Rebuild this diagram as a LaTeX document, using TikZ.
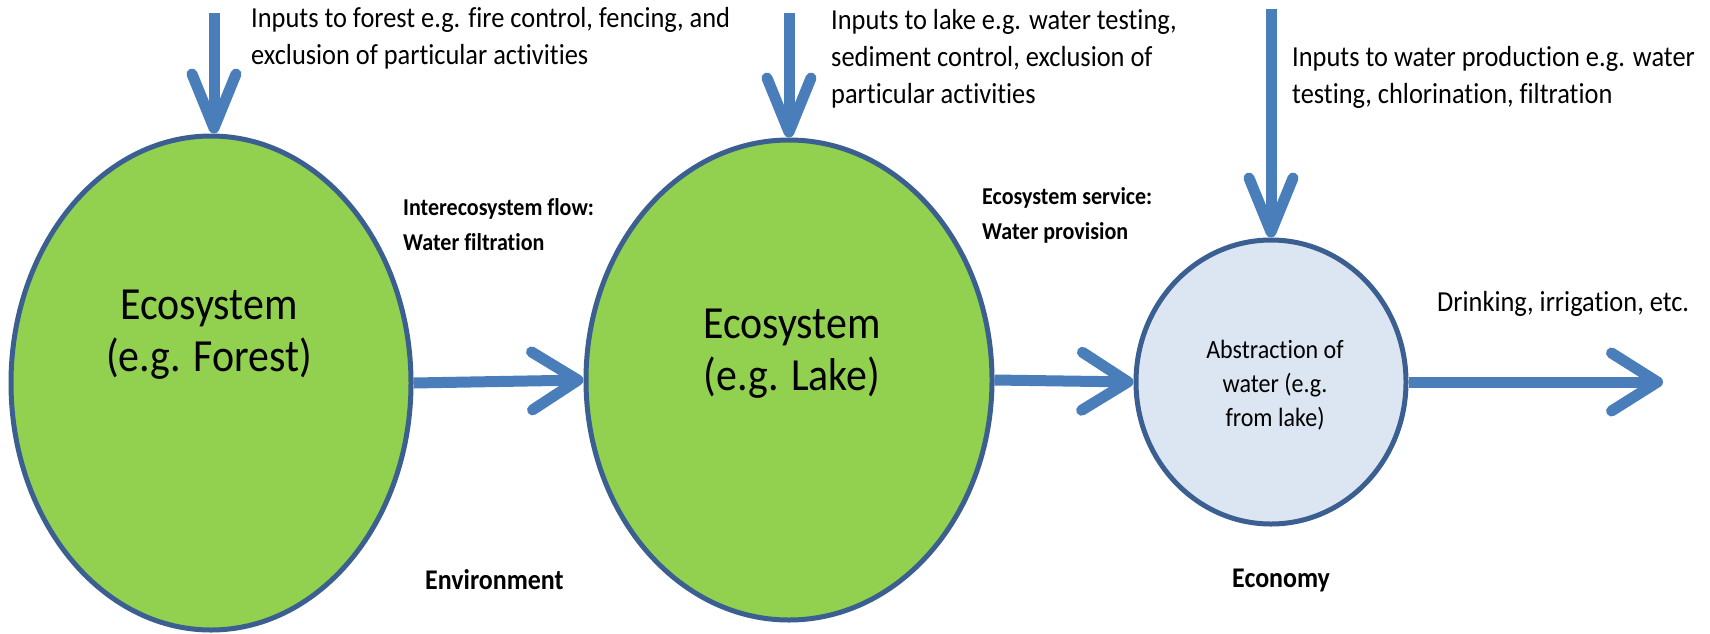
\documentclass[tikz,border=0pt]{standalone}
\usepackage{fontspec}
\setmainfont{Carlito}[Ligatures=NoCommon,FakeStretch=0.91]
\usetikzlibrary{arrows.meta,shapes.geometric}
\definecolor{arrowblue}{HTML}{4A7EBB}
\definecolor{edgeblue}{HTML}{3B5F91}
\definecolor{ecogreen}{HTML}{92D050}
\definecolor{paleblue}{HTML}{DCE6F2}
\begin{document}
\begin{tikzpicture}[x=1pt,y=-1pt,
  ecoshape/.style={ellipse,draw=edgeblue,line width=5pt,fill=ecogreen,inner sep=0pt},
  abshape/.style={ellipse,draw=edgeblue,line width=5pt,fill=paleblue,inner sep=0pt},
  flowarrow/.style={draw=arrowblue,line width=11pt,-{Straight Barb[round,length=46pt,width=58pt]}},
  inarrow/.style={draw=arrowblue,line width=11pt,-{Straight Barb[round,length=54pt,width=44pt]}},
  note/.style={anchor=west,align=left,inner sep=0pt,font=\fontsize{29}{37}\selectfont},
  boldnote/.style={anchor=west,align=left,inner sep=0pt,font=\fontsize{24.2}{35}\selectfont\bfseries},
  arealbl/.style={anchor=west,inner sep=0pt,font=\fontsize{28.5}{30}\selectfont\bfseries},
  ecotext/.style={align=center,inner sep=0pt,font=\fontsize{46}{52}\selectfont},
  abtext/.style={align=center,inner sep=0pt,font=\fontsize{26.4}{34}\selectfont}]
\useasboundingbox (0,0) rectangle (1710,633);
\fill[white] (0,0) rectangle (1710,633);

% ellipses
\node[ecoshape,minimum width=400pt,minimum height=494pt] (forest) at (211,383) {};
\node[ecoshape,minimum width=406pt,minimum height=480pt] (lake) at (789,380) {};
\node[abshape,minimum width=270pt,minimum height=284pt] (abs) at (1271,382) {};

\node[ecotext] (forestlbl) at (209,335) {Ecosystem\\(e.g. Forest)};
\node[ecotext] (lakelbl) at (792,354) {Ecosystem\\(e.g. Lake)};
\node[abtext] (abslbl) at (1275,385) {Abstraction of\\water (e.g.\\from lake)};

% free ends
\coordinate (forestin) at (214,13);
\coordinate (lakein) at (789,13);
\coordinate (absin) at (1271,9);
\coordinate (out) at (1663,382);

% arrows
\draw[inarrow] (forestin) -- (forest.north -| forestin);
\draw[inarrow] (lakein) -- (lake.north);
\draw[inarrow] (absin) -- (abs.north);
\draw[flowarrow] (forest.east) -- (lake.west);
\draw[flowarrow] (lake.east) -- (abs.west);
\draw[flowarrow] (abs.east) -- (out);

% texts
\node[note] (t1) at (251,38) {Inputs to forest e.g. fire control, fencing, and\\exclusion of particular activities};
\node[note] (t2) at (831,59) {Inputs to lake e.g. water testing,\\sediment control, exclusion of\\particular activities};
\node[note] (t3) at (1292,77) {Inputs to water production e.g. water\\testing, chlorination, filtration};
\node[note] (t4) at (1437,304) {Drinking, irrigation, etc.};
\node[boldnote] (b1) at (403,225) {Interecosystem flow:\\Water filtration};
\node[boldnote] (b2) at (982,215) {Ecosystem service:\\Water provision};
\node[arealbl] (env) at (425,580) {Environment};
\node[arealbl] (eco) at (1232,580) {Economy};
\end{tikzpicture}
\end{document}
